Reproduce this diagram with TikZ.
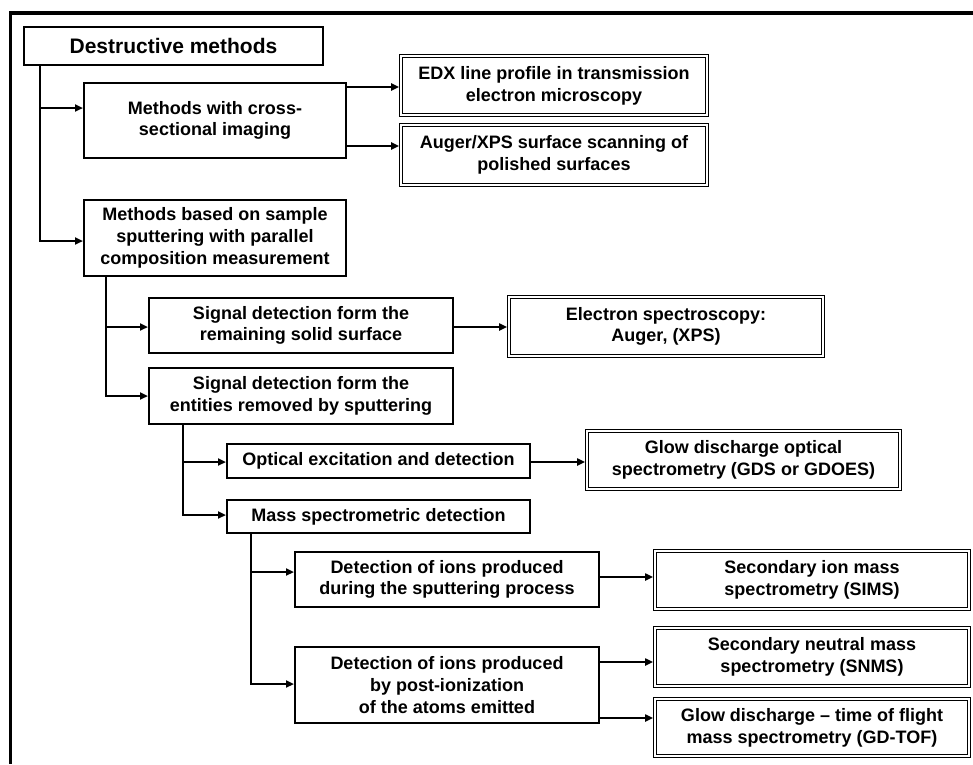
\documentclass[tikz,border=0pt]{standalone}
\usepackage{fontspec}
\setmainfont{Liberation Sans}
\usetikzlibrary{arrows.meta}
\begin{document}
\begin{tikzpicture}[x=1pt,y=-1pt,
  box/.style={draw,line width=2pt,inner sep=0pt,align=center,
    font=\bfseries\fontsize{18}{21.7}\selectfont},
  dbox/.style={box,line width=1.1pt,double,double distance=1.6pt,outer sep=1.9pt},
  arr/.style={line width=2pt,-{Triangle[length=8pt,width=7pt]}},
  darr/.style={arr,shorten >=0pt}]
\useasboundingbox (0,0) rectangle (973,764);
\fill[white] (0,0) rectangle (973,764);
\draw[line width=4pt] (9,13) -- (973,13);
\draw[line width=3pt] (10.5,11) -- (10.5,764);

\node[box,minimum width=299pt,minimum height=38pt,font=\bfseries\fontsize{21}{25}\selectfont] (dm) at (173.5,46) {Destructive methods};
\node[box,minimum width=262pt,minimum height=75pt] (cs) at (215,120.5) {Methods with cross-\\sectional imaging};
\node[box,minimum width=262pt,minimum height=76pt] (sp) at (215,238) {Methods based on sample\\sputtering with parallel\\composition measurement};
\node[dbox,minimum width=306pt,minimum height=59pt] (edx) at (554,85.5) {EDX line profile in transmission\\electron microscopy};
\node[dbox,minimum width=306pt,minimum height=60pt] (aug) at (554,155) {Auger/XPS surface scanning of\\polished surfaces};
\node[box,minimum width=304pt,minimum height=55pt] (rem) at (301,325.5) {Signal detection form the\\remaining solid surface};
\node[box,minimum width=304pt,minimum height=56pt] (ent) at (301,396) {Signal detection form the\\entities removed by sputtering};
\node[dbox,minimum width=314pt,minimum height=59pt] (es) at (666,326.5) {Electron spectroscopy:\\Auger, (XPS)};
\node[box,minimum width=303pt,minimum height=34pt] (opt) at (378.5,461) {Optical excitation and detection};
\node[box,minimum width=303pt,minimum height=33pt] (mass) at (378.5,516.5) {Mass spectrometric detection};
\node[dbox,minimum width=313pt,minimum height=58pt] (gdoes) at (743.5,460) {Glow discharge optical\\spectrometry (GDS or GDOES)};
\node[box,minimum width=304pt,minimum height=55pt] (det1) at (447,579.5) {Detection of ions produced\\during the sputtering process};
\node[box,minimum width=304pt,minimum height=76pt] (det2) at (447,685) {Detection of ions produced\\by post-ionization\\of the atoms emitted};
\node[dbox,minimum width=314pt,minimum height=58pt] (sims) at (812,580) {Secondary ion mass\\spectrometry (SIMS)};
\node[dbox,minimum width=314pt,minimum height=58pt] (snms) at (812,657) {Secondary neutral mass\\spectrometry (SNMS)};
\node[dbox,minimum width=314pt,minimum height=57pt] (gdtof) at (812,727.5) {Glow discharge – time of flight\\mass spectrometry (GD-TOF)};

\draw[arr] (dm.south -| 40,0) |- (cs.west |- 0,108);
\draw[arr] (dm.south -| 40,0) |- (sp.west |- 0,241);
\draw[arr] (cs.east |- 0,87) -- (edx.west |- 0,87);
\draw[arr] (cs.east |- 0,146) -- (aug.west |- 0,146);
\draw[arr] (sp.south -| 106,0) |- (rem.west |- 0,327);
\draw[arr] (sp.south -| 106,0) |- (ent.west |- 0,396);
\draw[arr] (rem.east |- 0,327) -- (es.west |- 0,327);
\draw[arr] (ent.south -| 183,0) |- (opt.west |- 0,462);
\draw[arr] (ent.south -| 183,0) |- (mass.west |- 0,515);
\draw[arr] (opt.east |- 0,462) -- (gdoes.west |- 0,462);
\draw[arr] (mass.south -| 251,0) |- (det1.west |- 0,572);
\draw[arr] (mass.south -| 251,0) |- (det2.west |- 0,684);
\draw[arr] (det1.east |- 0,577) -- (sims.west |- 0,577);
\draw[arr] (det2.east |- 0,662) -- (snms.west |- 0,662);
\draw[arr] (det2.east |- 0,718) -- (gdtof.west |- 0,718);
\end{tikzpicture}
\end{document}
